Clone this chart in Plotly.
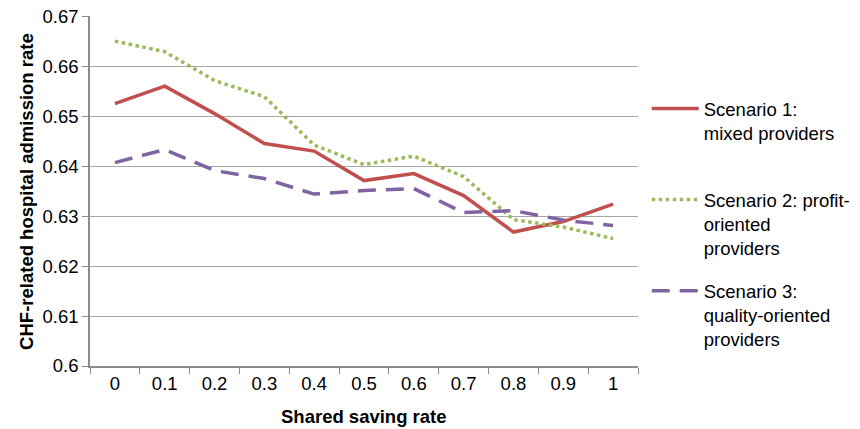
import plotly.graph_objects as go

x_labels = ["0", "0.1", "0.2", "0.3", "0.4", "0.5", "0.6", "0.7", "0.8", "0.9", "1"]
scenario1 = [0.6525, 0.6560, 0.6505, 0.6445, 0.6430, 0.6371, 0.6385, 0.6341, 0.6268, 0.6289, 0.6324]
scenario2 = [0.6650, 0.6629, 0.6571, 0.6539, 0.6442, 0.6403, 0.6420, 0.6379, 0.6293, 0.6278, 0.6255]
scenario3 = [0.6407, 0.6433, 0.6391, 0.6375, 0.6344, 0.6351, 0.6355, 0.6307, 0.6311, 0.6292, 0.6281]
names = ["Scenario 1:<br>mixed providers<br> ",
         "Scenario 2: profit-<br>oriented<br>providers",
         "Scenario 3:<br>quality-oriented<br>providers"]
x_title = "Shared saving rate"
y_title = "CHF-related hospital admission rate"

FONT = "Liberation Sans, Arial, sans-serif"
FS = 18.5

fig = go.Figure()
fig.add_trace(go.Scatter(x=x_labels, y=scenario1, name=names[0], mode="lines",
                         line=dict(color="#C0504D", width=3.5), legendgroup="a"))
fig.add_trace(go.Scatter(x=x_labels, y=scenario2, name=names[1], mode="lines",
                         line=dict(color="#9BBB59", width=3.5, dash="dot"), legendgroup="b"))
fig.add_trace(go.Scatter(x=x_labels, y=scenario3, name=names[2], mode="lines",
                         line=dict(color="#8064A2", width=3.5, dash="18px,10px"), legendgroup="c"))

fig.update_layout(
    width=860, height=429,
    margin=dict(l=90, r=222, t=16, b=63),
    paper_bgcolor="white", plot_bgcolor="white",
    font=dict(family=FONT, size=FS, color="black"),
    showlegend=True,
    legend=dict(xref="container", x=0.752, xanchor="left", y=0.789, yanchor="top", itemwidth=47,
                font=dict(size=FS), tracegroupgap=16, valign="top",
                bgcolor="rgba(0,0,0,0)"),
    xaxis=dict(type="category", range=[-0.5, 10.5], automargin=False, showgrid=False,
               showline=True, linecolor="#8c8c8c",
               linewidth=1.5, ticks="outside", tickson="boundaries", ticklen=6,
               tickcolor="#8c8c8c", tickfont=dict(size=FS)),
    yaxis=dict(range=[0.6, 0.67003], dtick=0.01, tickformat="~g", showgrid=True, automargin=False,
               ticklabeloverflow="allow",
               gridcolor="#a6a6a6", gridwidth=1.2, showline=True, linecolor="#8c8c8c",
               linewidth=1.5, ticks="outside", ticklen=6, tickcolor="#8c8c8c",
               tickfont=dict(size=FS), zeroline=False),
    annotations=[
        dict(text="<b>" + x_title + "</b>", xref="paper", yref="paper", x=0.5, y=-0.145,
             xanchor="center", yanchor="middle", showarrow=False, font=dict(size=FS)),
        dict(text="<b>" + y_title + "</b>", xref="paper", yref="paper", x=-0.117, y=0.5,
             xanchor="center", yanchor="middle", textangle=-90, showarrow=False,
             font=dict(size=FS)),
    ],
)

fig.write_html("out.html", config={"displayModeBar": False},
               post_script="document.body.style.margin='0';")
